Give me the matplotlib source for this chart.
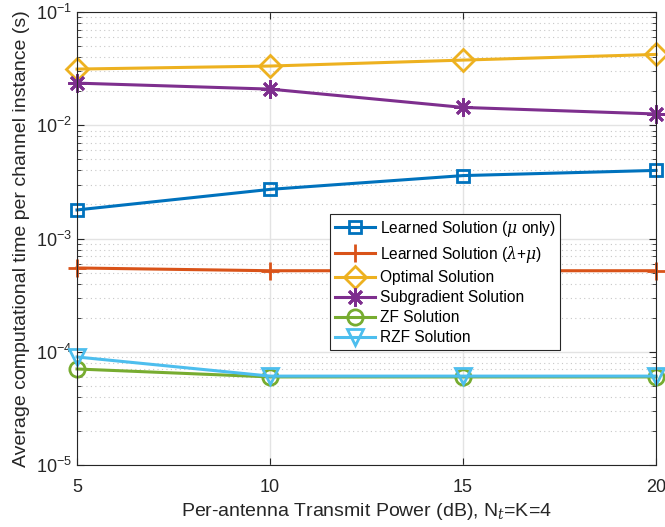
import matplotlib
matplotlib.use('Agg')
import matplotlib.pyplot as plt
import matplotlib.ticker as mticker

plt.rcParams.update({
    'font.family': ['Liberation Sans', 'DejaVu Sans'],
    'mathtext.fontset': 'dejavuserif',
    'font.size': 12,
    'xtick.direction': 'in',
    'ytick.direction': 'in',
})

power_db = [5, 10, 15, 20]
learned_mu = [1.79e-3, 2.72e-3, 3.6e-3, 4.0e-3]
learned_lam_mu = [5.5e-4, 5.2e-4, 5.2e-4, 5.2e-4]
optimal = [3.14e-2, 3.34e-2, 3.77e-2, 4.23e-2]
subgradient = [2.36e-2, 2.09e-2, 1.44e-2, 1.26e-2]
zf = [7.05e-5, 6.0e-5, 6.0e-5, 6.0e-5]
rzf = [9.0e-5, 6.1e-5, 6.1e-5, 6.1e-5]

series = [
    (learned_mu, r'Learned Solution ($\mu$ only)', '#0072BD', 's', 9),
    (learned_lam_mu, r'Learned Solution ($\lambda$+$\mu$)', '#D95319', '+', 13),
    (optimal, 'Optimal Solution', '#EDB120', 'D', 11),
    (subgradient, 'Subgradient Solution', '#7E2F8E', (8, 2, 0), 13),
    (zf, 'ZF Solution', '#77AC30', 'o', 11),
    (rzf, 'RZF Solution', '#4DBEEE', 'v', 12),
]

fig = plt.figure(figsize=(6.65, 5.27), dpi=100)
ax = fig.add_axes([0.1158, 0.1176, 0.8707, 0.8594])

for vals, label, color, marker, ms in series:
    ax.plot(power_db, vals, color=color, marker=marker, markersize=ms,
            markerfacecolor='none', markeredgewidth=2, linewidth=2.2,
            label=label, clip_on=False)

ax.set_yscale('log')
ax.set_xlim(5, 20)
ax.set_ylim(1e-5, 1e-1)
ax.set_xticks([5, 10, 15, 20])
ax.yaxis.set_major_locator(mticker.LogLocator(base=10, numticks=10))
ax.yaxis.set_minor_locator(mticker.LogLocator(base=10, subs=range(2, 10), numticks=10))
ax.yaxis.set_minor_formatter(mticker.NullFormatter())

ax.grid(True, which='major', color='#e3e3e3', linestyle='-', linewidth=1)
ax.grid(True, which='minor', axis='y', color='#c8c8c8', linestyle=(0, (1, 3)), linewidth=0.8)
ax.set_axisbelow(True)

ax.tick_params(which='both', top=True, right=True, colors='#262626', labelsize=13)
ax.tick_params(which='major', length=5)
ax.tick_params(which='minor', length=3)
ax.tick_params(axis='x', pad=10)
for s in ax.spines.values():
    s.set_color('#262626')
    s.set_linewidth(0.8)

ax.set_xlabel(r'Per-antenna Transmit Power (dB), N$_t$=K=4', fontsize=14, color='#262626')
ax.set_ylabel('Average computational time per channel instance (s)', fontsize=14, color='#262626')

leg = ax.legend(loc='upper left', bbox_to_anchor=(0.437, 0.554), fontsize=11.2,
                frameon=True, fancybox=False, edgecolor='#262626', framealpha=1,
                borderpad=0.3, labelspacing=0.33, handlelength=2.6, handletextpad=0.3,
                borderaxespad=0)
leg.get_frame().set_linewidth(0.8)

fig.savefig('out.png', dpi=100)
